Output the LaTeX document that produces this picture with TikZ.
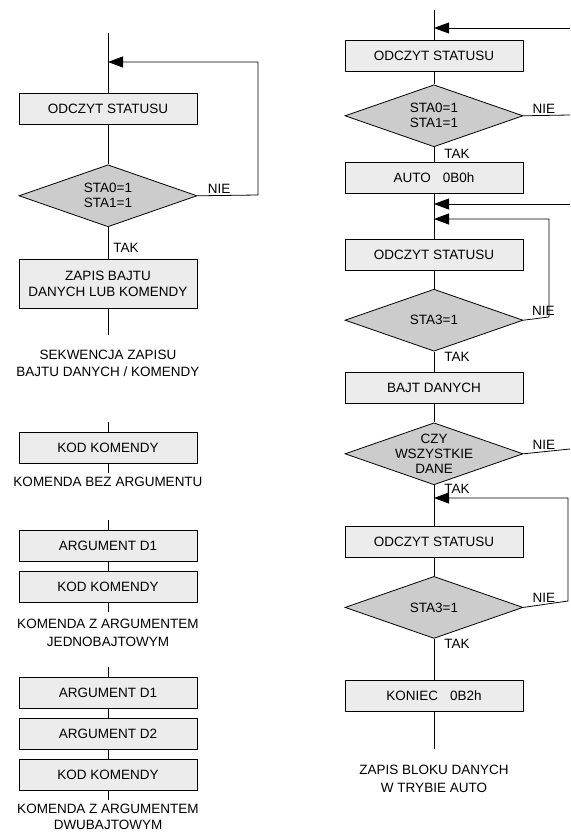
\documentclass[tikz,border=0pt]{standalone}
\usepackage{fontspec}
\setmainfont{Liberation Sans}
\usetikzlibrary{arrows.meta,positioning,shapes.geometric}

\begin{document}
\begin{tikzpicture}[
    x=1pt, y=-1pt,
    font=\fontsize{13.5}{16}\selectfont,
    line width=0.8pt,
    box/.style={draw, fill=gray!15, minimum width=178pt, minimum height=31pt, inner sep=2pt, align=center},
    dec/.style={draw, diamond, fill=gray!40, minimum width=178pt, minimum height=62pt, inner sep=0pt},
    dectext/.style={align=center, font=\fontsize{13.5}{15}\selectfont},
    captxt/.style={align=center, font=\fontsize{13.5}{17.5}\selectfont},
    arr/.style={-{Triangle[length=15pt, width=11pt]}},
    tak/.style={right=10pt, inner sep=0pt},
    nie/.style={above, inner sep=2pt}]
  \useasboundingbox (0,0) rectangle (570,834);

  % write sequence (left, top)
  \coordinate (ltop) at (108,33);
  \coordinate (lin) at (108,62);
  \node[box] (lread) at (108,108.5) {ODCZYT STATUSU};
  \node[dec, below=40pt of lread] (lchk) {};
  \node[dectext] (lchkt) at (lchk) {STA0=1\\STA1=1};
  \node[box, minimum height=49pt, below=32pt of lchk] (lwrite) {ZAPIS BAJTU\\DANYCH LUB KOMENDY};
  \coordinate (lend) at (108,335);
  \coordinate (lret) at (258,195);
  \node[captxt] (lcap) at (108,363.5) {SEKWENCJA ZAPISU\\BAJTU DANYCH / KOMENDY};
  \draw (ltop) -- (lread);
  \draw (lread) -- (lchk);
  \draw (lchk) -- node[pos=0.65, tak, right=5pt]{TAK} (lwrite);
  \draw (lwrite) -- (lend);
  \draw[arr] (lchk.east) -- node[pos=0.36, nie]{NIE} (lret) |- (lin);

  % command formats (left, bottom)
  \coordinate (k1top) at (108,422);
  \node[box] (kod1) at (108,447.5) {KOD KOMENDY};
  \coordinate (k1end) at (108,473);
  \node[captxt] (cap1) at (108,482) {KOMENDA BEZ ARGUMENTU};
  \draw (k1top) -- (kod1) -- (k1end);

  \coordinate (k2top) at (108,520);
  \node[box] (arg2a) at (108,545.5) {ARGUMENT D1};
  \node[box, below=10pt of arg2a] (kod2) {KOD KOMENDY};
  \coordinate (k2end) at (108,612);
  \node[captxt] (cap2) at (108,633) {KOMENDA Z ARGUMENTEM\\JEDNOBAJTOWYM};
  \draw (k2top) -- (arg2a) -- (kod2) -- (k2end);

  \coordinate (k3top) at (108,667);
  \node[box] (arg3a) at (108,693) {ARGUMENT D1};
  \node[box, below=9pt of arg3a] (arg3b) {ARGUMENT D2};
  \node[box, below=9pt of arg3b] (kod3) {KOD KOMENDY};
  \coordinate (k3end) at (108,800);
  \node[captxt, font=\fontsize{13.5}{16}\selectfont] (cap3) at (108,816.5) {KOMENDA Z ARGUMENTEM\\DWUBAJTOWYM};
  \draw (k3top) -- (arg3a) -- (arg3b) -- (kod3) -- (k3end);

  % auto mode block write (right)
  \coordinate (rtop) at (434,10);
  \coordinate (rin1) at (434,28);
  \coordinate (rsrc1) at (570,28);
  \node[box] (rread1) at (434,55.5) {ODCZYT STATUSU};
  \node[dec, below=13pt of rread1] (rchk1) {};
  \node[dectext] (rchk1t) at (rchk1) {STA0=1\\STA1=1};
  \node[box, below=15pt of rchk1] (rauto) {AUTO\hspace{0.9em}0B0h};
  \node[box, below=45pt of rauto] (rread2) {ODCZYT STATUSU};
  \node[dec, below=18pt of rread2] (rchk2) {};
  \node[dectext] (rchk2t) at (rchk2) {STA3=1};
  \node[box, below=20pt of rchk2] (rbyte) {BAJT DANYCH};
  \node[dec, below=19pt of rbyte] (rall) {};
  \node[dectext] (rallt) at (rall) {CZY\\WSZYSTKIE\\DANE};
  \node[box, below=41pt of rall] (rread3) {ODCZYT STATUSU};
  \node[dec, below=18pt of rread3] (rchk3) {};
  \node[dectext] (rchk3t) at (rchk3) {STA3=1};
  \node[box, below=41pt of rchk3] (rend) {KONIEC\hspace{0.9em}0B2h};
  \coordinate (rbot) at (434,749);
  \node[captxt] (rcap) at (434,779) {ZAPIS BLOKU DANYCH\\W TRYBIE AUTO};
  \coordinate (rout1) at (570,115);
  \coordinate (rin2) at (434,204);
  \coordinate (rsrc2) at (570,204);
  \coordinate (rin3) at (434,219);
  \coordinate (rret2) at (549,317);
  \coordinate (rout2) at (570,449);
  \coordinate (rin4) at (434,498);
  \coordinate (rret3) at (568,601);

  \draw (rtop) -- (rread1);
  \draw (rread1) -- (rchk1);
  \draw (rchk1) -- node[pos=0.47, tak]{TAK} (rauto);
  \draw (rauto) -- (rread2);
  \draw (rread2) -- (rchk2);
  \draw (rchk2) -- node[pos=0.25, tak]{TAK} (rbyte);
  \draw (rbyte) -- (rall);
  \draw (rall) -- node[pos=0.1, tak]{TAK} (rread3);
  \draw (rread3) -- (rchk3);
  \draw (rchk3) -- node[pos=0.12, tak]{TAK} (rend);
  \draw (rend) -- (rbot);

  \draw[arr] (rsrc1) -- (rin1);
  \draw (rchk1.east) -- node[pos=0.44, nie]{NIE} (rout1);
  \draw[arr] (rsrc2) -- (rin2);
  \draw[arr] (rchk2.east) -- node[pos=0.78, nie]{NIE} (rret2) |- (rin3);
  \draw (rall.east) -- node[pos=0.44, nie]{NIE} (rout2);
  \draw[arr] (rchk3.east) -- node[pos=0.46, nie]{NIE} (rret3) |- (rin4);
\end{tikzpicture}
\end{document}
